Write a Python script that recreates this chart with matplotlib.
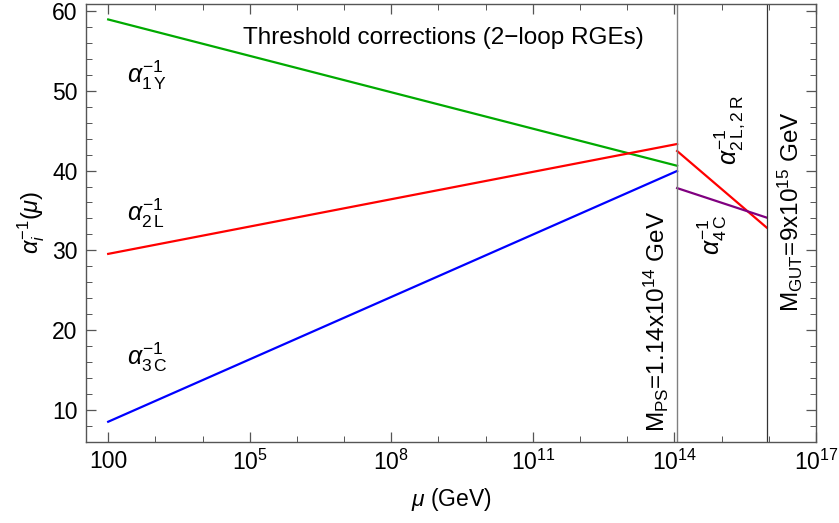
import numpy as np
import matplotlib
matplotlib.use("Agg")
import matplotlib.pyplot as plt
from matplotlib.ticker import NullFormatter

plt.rcParams["font.family"] = ["Liberation Sans", "DejaVu Sans"]
plt.rcParams["mathtext.fontset"] = "custom"
plt.rcParams["mathtext.rm"] = "Liberation Sans"
plt.rcParams["mathtext.it"] = "Liberation Sans:italic"
plt.rcParams["mathtext.bf"] = "Liberation Sans:bold"

# scales (GeV)
mu_low = 100.0
m_ps = 1.14e14
m_gut = 9e15

# inverse couplings at segment ends
alpha1Y = [58.95, 40.6]     # 100 GeV -> M_PS
alpha2L = [29.55, 43.33]
alpha3C = [8.5, 39.95]
alpha2L2R = [42.45, 32.85]  # M_PS -> M_GUT
alpha4C = [37.8, 34.1]

xticks = [1e2, 1e5, 1e8, 1e11, 1e14, 1e17]
xtick_labels = ["100", "$10^{5}$", "$10^{8}$", "$10^{11}$", "$10^{14}$", "$10^{17}$"]
yticks = [10, 20, 30, 40, 50, 60]

fig, ax = plt.subplots(figsize=(8.39, 5.23), dpi=100)
fig.subplots_adjust(left=0.1025, right=0.9726, bottom=0.1555, top=0.9933)

lw = 1.6
ax.plot([mu_low, m_ps], alpha1Y, color="#00aa00", lw=lw)
ax.plot([mu_low, m_ps], alpha2L, color="#ff0000", lw=lw)
ax.plot([mu_low, m_ps], alpha3C, color="#0000ff", lw=lw)
ax.plot([m_ps, m_gut], alpha2L2R, color="#ff0000", lw=lw)
ax.plot([m_ps, m_gut], alpha4C, color="#800080", lw=lw)

ax.axvline(m_ps, color="#808080", lw=1.0)
ax.axvline(m_gut, color="#333333", lw=0.9)

ax.set_xscale("log")
ax.set_xlim(10**1.53, 10**16.96)
ax.set_ylim(6.0, 60.95)

ax.set_xticks(xticks)
ax.set_xticklabels(xtick_labels)
ax.set_xticks([10.0**k for k in range(2, 17)], minor=True)
ax.xaxis.set_minor_formatter(NullFormatter())
ax.set_yticks(yticks)
ax.set_yticks(np.arange(8, 61, 2), minor=True)
ax.tick_params(which="both", direction="in", top=True, right=True,
               labelsize=16.5, color="#555555", pad=6)
ax.tick_params(which="major", length=7, width=0.9)
ax.tick_params(which="minor", length=4, width=0.7)
for s in ax.spines.values():
    s.set_color("#555555")
    s.set_linewidth(1.0)

ax.set_xlabel(r"$\mu$ (GeV)", fontsize=16.5, labelpad=8)
ax.set_ylabel(r"$\alpha_i^{-1}(\mu)$", fontsize=17, labelpad=4)

ax.text(0.489, 56.6, "Threshold corrections (2\u2212loop RGEs)",
        transform=ax.get_yaxis_transform(), fontsize=17.5, ha="center", va="center")

lab = dict(fontsize=18, ha="left", va="center")
ax.text(250, 52.0, r"$\alpha_{1\,\mathrm{Y}}^{-1}$", **lab)
ax.text(250, 34.6, r"$\alpha_{2\,\mathrm{L}}^{-1}$", **lab)
ax.text(250, 16.6, r"$\alpha_{3\,\mathrm{C}}^{-1}$", **lab)

ax.text(4.2e13, 7.2, r"M$_{\mathrm{PS}}$=1.14x10$^{14}$ GeV", rotation=90,
        fontsize=17.5, ha="center", va="bottom")
ax.text(6.4e14, 32.0, r"$\alpha_{4\,\mathrm{C}}^{-1}$", rotation=90,
        fontsize=18, ha="center", va="center")
ax.text(1.46e15, 45.1, r"$\alpha_{2\,\mathrm{L,2\,R}}^{-1}$", rotation=90,
        fontsize=18, ha="center", va="center")
ax.text(2.85e16, 34.8, r"M$_{\mathrm{GUT}}$=9x10$^{15}$ GeV", rotation=90,
        fontsize=17.5, ha="center", va="center")

fig.savefig("out.png", dpi=100)
